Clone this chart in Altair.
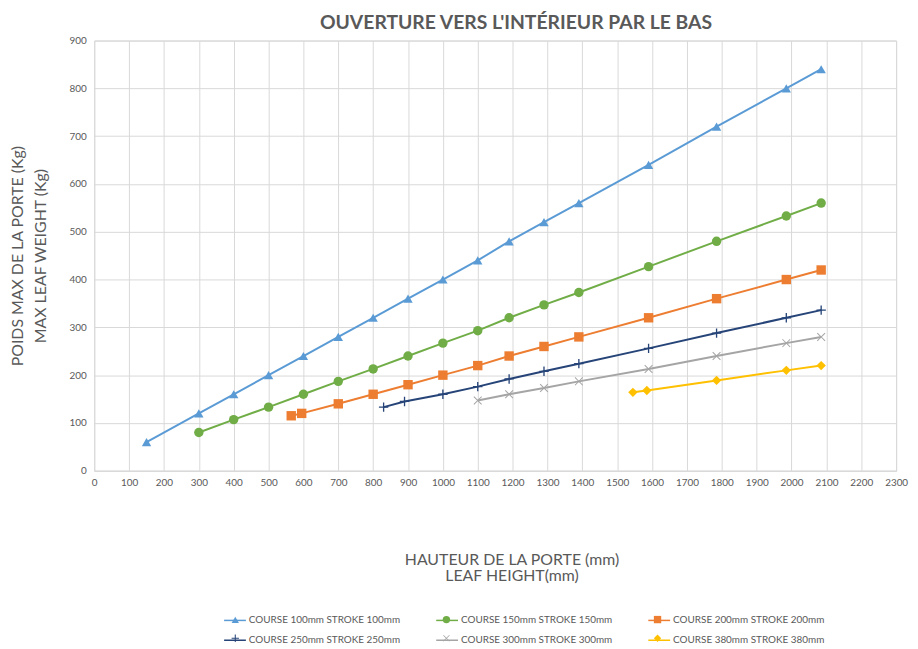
import altair as alt
import pandas as pd

series_names = [
    "COURSE  100mm  STROKE 100mm",
    "COURSE  150mm  STROKE 150mm",
    "COURSE  200mm  STROKE 200mm",
    "COURSE  250mm  STROKE 250mm",
    "COURSE  300mm  STROKE 300mm",
    "COURSE  380mm  STROKE 380mm",
]
colors = ["#5B9BD5", "#70AD47", "#ED7D31", "#264478", "#A5A5A5", "#FFC000"]

x100 = [150, 300, 400, 500, 600, 700, 800, 900, 1000, 1100, 1190, 1290, 1390, 1590, 1785, 1985, 2085]
y100 = [60, 120, 160, 200, 240, 280, 320, 360, 400, 440, 480, 520, 560, 640, 720, 800, 840]
x150 = [300, 400, 500, 600, 700, 800, 900, 1000, 1100, 1190, 1290, 1390, 1590, 1785, 1985, 2085]
y150 = [80, 107, 133, 160, 187, 213, 240, 267, 293, 320, 347, 373, 427, 480, 533, 560]
x200 = [565, 595, 700, 800, 900, 1000, 1100, 1190, 1290, 1390, 1590, 1785, 1985, 2085]
y200 = [115, 120, 140, 160, 180, 200, 220, 240, 260, 280, 320, 360, 400, 420]
x250 = [830, 890, 1000, 1100, 1190, 1290, 1390, 1590, 1785, 1985, 2085]
y250 = [133, 145, 160, 176, 192, 208, 224, 256, 288, 320, 336]
x300 = [1100, 1190, 1290, 1390, 1590, 1785, 1985, 2085]
y300 = [147, 160, 173, 187, 213, 240, 267, 280]
x380 = [1545, 1585, 1785, 1985, 2085]
y380 = [164, 168, 189, 210, 220]

x_ticks = list(range(0, 2301, 100))
y_ticks = list(range(0, 901, 100))

xs = [x100, x150, x200, x250, x300, x380]
ys = [y100, y150, y200, y250, y300, y380]

rows = []
for name, xv, yv in zip(series_names, xs, ys):
    for a, b in zip(xv, yv):
        rows.append({"series": name, "h": a, "w": b})
df = pd.DataFrame(rows)

plus_path = "M-1,-0.14H-0.14V-1H0.14V-0.14H1V0.14H0.14V1H-0.14V0.14H-1Z"
x_path = ("M-0.9,-0.75L-0.75,-0.9L0,-0.15L0.75,-0.9L0.9,-0.75L0.15,0L0.9,0.75"
          "L0.75,0.9L0,0.15L-0.75,0.9L-0.9,0.75L-0.15,0Z")
shapes = ["triangle-up", "circle", "square", plus_path, x_path, "diamond"]

FONT = "Lato"
GREY = "#595959"

x_axis = alt.Axis(
    values=x_ticks, format="d", labelOverlap=False, labelSeparation=0, labelFlush=False,
    title=["HAUTEUR DE LA PORTE (mm)", "LEAF HEIGHT(mm)"],
    titleFontSize=16, titleFontWeight="normal", titleColor=GREY, titleFont=FONT,
    titleX=421, titleY=82, titleBaseline="top", titleLineHeight=16,
    labelFontSize=10, labelColor=GREY, labelFont=FONT, labelPadding=7,
    ticks=False, domainColor="#d9d9d9", gridColor="#d9d9d9",
)
y_axis = alt.Axis(
    values=y_ticks, format="d", labelOverlap=False, labelFlush=False,
    title=["POIDS MAX DE LA PORTE (Kg)", "MAX LEAF WEIGHT (Kg)"],
    titleFontSize=16, titleFontWeight="normal", titleColor=GREY, titleFont=FONT,
    titleX=-85, titleY=217, titleBaseline="top", titleLineHeight=23, titleAngle=-90,
    labelFontSize=10, labelColor=GREY, labelFont=FONT, labelPadding=8,
    ticks=False, domain=False, gridColor="#d9d9d9",
)
x_scale = alt.Scale(domain=[0, 2300], nice=False, zero=False)
y_scale = alt.Scale(domain=[0, 900], nice=False)

LINE_SYM = 484
PT_SYM = 55
LABEL_OFF = 2
DIFF = LINE_SYM ** 0.5 - PT_SYM ** 0.5

leg_common = dict(
    orient="none", legendX=130, columns=3, title=None, direction="horizontal",
    labelFontSize=10, labelFont=FONT, columnPadding=28, labelLimit=400,
)

lines = alt.Chart(df).mark_line(strokeWidth=2).encode(
    x=alt.X("h:Q", scale=x_scale, axis=x_axis),
    y=alt.Y("w:Q", scale=y_scale, axis=y_axis),
    color=alt.Color(
        "series:N",
        scale=alt.Scale(domain=series_names, range=colors),
        sort=series_names,
        legend=alt.Legend(symbolType="stroke", symbolStrokeWidth=1.5, labelColor=GREY,
                          symbolSize=LINE_SYM, labelOffset=LABEL_OFF,
                          legendY=573, rowPadding=3, **leg_common),
    ),
    detail="series:N",
)

pt_leg = dict(
    labelColor="transparent", symbolOpacity=1, symbolSize=PT_SYM,
    symbolOffset=DIFF / 2,
    labelOffset=LABEL_OFF + DIFF / 2,
    legendY=579, rowPadding=5,
    **leg_common,
)

points = alt.Chart(df).mark_point(filled=True, size=90, opacity=1).encode(
    x=alt.X("h:Q", scale=x_scale, axis=x_axis),
    y=alt.Y("w:Q", scale=y_scale, axis=y_axis),
    color=alt.Color(
        "series:N",
        scale=alt.Scale(domain=series_names, range=colors),
        sort=series_names,
        legend=alt.Legend(**pt_leg),
    ),
    shape=alt.Shape(
        "series:N",
        scale=alt.Scale(domain=series_names, range=shapes),
        sort=series_names,
        legend=alt.Legend(**pt_leg),
    ),
)

chart = (
    alt.layer(lines, points)
    .resolve_scale(color="independent", shape="independent")
    .properties(
        width=809,
        height=434,
        autosize=alt.AutoSizeParams(type="none"),
        padding={"left": 87, "top": 30, "right": 14, "bottom": 177},
        title=alt.TitleParams(
            "OUVERTURE VERS L'INTÉRIEUR PAR LE BAS",
            fontSize=19.5, fontWeight="bold", color=GREY, font=FONT,
            anchor="middle", dx=21, offset=2,
        ),
        background="white",
    )
    .configure_view(stroke="#d9d9d9")
    .configure_axis(labelOverlap=False, labelFlush=False)
)

chart.save("out.html", embed_options={"renderer": "svg", "actions": False})
